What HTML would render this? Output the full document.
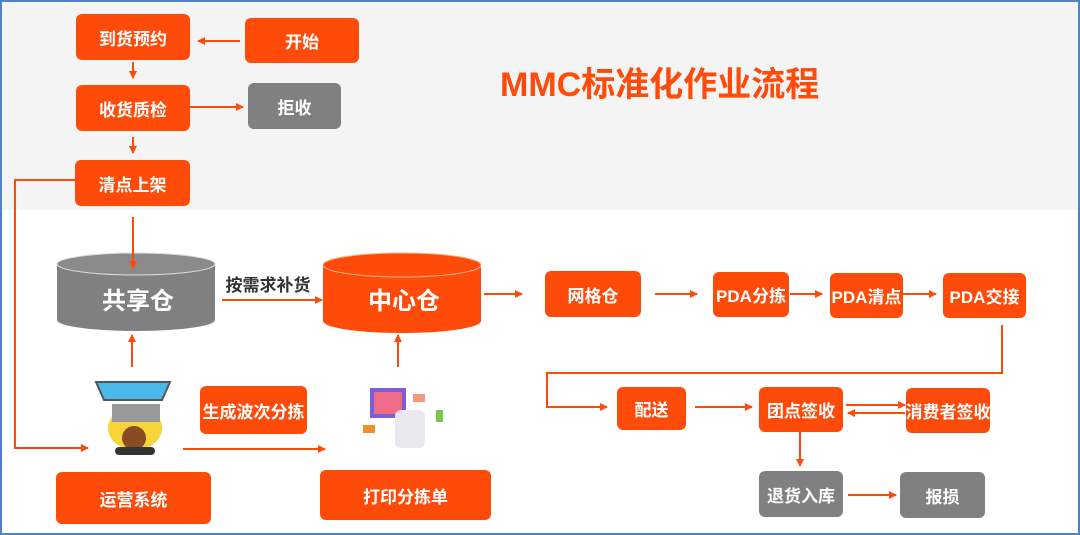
<!DOCTYPE html>
<html><head><meta charset="utf-8"><style>
body{margin:0;width:1080px;height:535px;overflow:hidden;background:#fff;font-family:"Liberation Sans","Noto Sans CJK SC",sans-serif;}
.wrap{position:absolute;left:0;top:0;width:1076px;height:531px;border:2px solid #4f81c7;background:#fff;}
.top{position:absolute;left:0;top:0;width:1076px;height:208px;background:#f4f4f4;}
.b{position:absolute;background:#ff4b0a;color:#fff;font-weight:bold;font-size:17px;display:flex;align-items:center;justify-content:center;border-radius:6px;white-space:nowrap;}
.g{background:#808080;}
.t{position:absolute;font-weight:bold;}
svg{position:absolute;left:0;top:0;}
</style></head><body>
<div class="wrap"><div class="top"></div></div>
<div class="b" style="left:76px;top:14px;width:114px;height:46px">到货预约</div>
<div class="b" style="left:245px;top:18px;width:114px;height:45px">开始</div>
<div class="b g" style="left:248px;top:83px;width:93px;height:46px">拒收</div>
<div class="b" style="left:76px;top:85px;width:114px;height:46px">收货质检</div>
<div class="b" style="left:75px;top:160px;width:115px;height:46px">清点上架</div>
<div class="t" style="left:500px;top:57px;font-size:34px;color:#ff4b0a">MMC标准化作业流程</div>
<svg width="1080" height="535">
<defs><marker id="a" markerWidth="8" markerHeight="8" refX="7" refY="4" orient="auto" markerUnits="userSpaceOnUse"><path d="M0,0 L8,4 L0,8z" fill="#ff4b0a"/></marker></defs>
<g stroke="#ff4b0a" stroke-width="2" fill="none">
<path d="M240,41 H198" marker-end="url(#a)"/>
<path d="M133,62 V78" marker-end="url(#a)"/>
<path d="M190,107 H243" marker-end="url(#a)"/>
<path d="M133,137 V153" marker-end="url(#a)"/>
<path d="M75,180 H15 V448 H88" marker-end="url(#a)"/>
<path d="M183,449 H325" marker-end="url(#a)"/>
<path d="M132,367 V335" marker-end="url(#a)"/>
<path d="M398,367 V335" marker-end="url(#a)"/>
<path d="M222,300 H322" marker-end="url(#a)"/>
<path d="M484,294 H522" marker-end="url(#a)"/>
<path d="M655,294 H697" marker-end="url(#a)"/>
<path d="M790,294 H822" marker-end="url(#a)"/>
<path d="M903,294 H936" marker-end="url(#a)"/>
<path d="M1002,325 V373 H547 V407 H607" marker-end="url(#a)"/>
<path d="M695,407 H752" marker-end="url(#a)"/>
<path d="M846,405 H905" marker-end="url(#a)"/>
<path d="M905,413 H848" marker-end="url(#a)"/>
<path d="M800,432 V466" marker-end="url(#a)"/>
<path d="M848,495 H896" marker-end="url(#a)"/>
</g>
<path d="M57,264 V320 A79,11 0 0 0 215,320 V264z" fill="#808080"/>
<ellipse cx="136" cy="264" rx="79" ry="11" fill="#8a8a8a" stroke="#ddd" stroke-width="1"/>
<path d="M133,217 V268" stroke="#ff4b0a" stroke-width="2" marker-end="url(#a)"/>
<path d="M323,265 V321 A79,12 0 0 0 481,321 V265z" fill="#ff4b0a"/>
<ellipse cx="402" cy="265" rx="79" ry="12" fill="#ff4b0a" stroke="#ffb08a" stroke-width="1"/>
<text x="138" y="309" font-size="24" font-weight="bold" fill="#fff" text-anchor="middle" font-family="Liberation Sans,Noto Sans CJK SC,sans-serif">共享仓</text>
<text x="404" y="309" font-size="24" font-weight="bold" fill="#fff" text-anchor="middle" font-family="Liberation Sans,Noto Sans CJK SC,sans-serif">中心仓</text>
<text x="268" y="291" font-size="17" font-weight="bold" fill="#333" text-anchor="middle" font-family="Liberation Sans,Noto Sans CJK SC,sans-serif">按需求补货</text>
<path d="M96,382 H170 L162,400 H104z" fill="#4ab8e8" stroke="#555" stroke-width="2"/>
<ellipse cx="135" cy="428" rx="27" ry="22" fill="#f7d43a"/>
<rect x="112" y="404" width="48" height="18" fill="#999"/>
<circle cx="134" cy="438" r="12" fill="#8a4a22"/>
<rect x="115" y="447" width="40" height="8" rx="4" fill="#333"/>
<rect x="370" y="388" width="36" height="30" fill="#7c5ed6"/>
<rect x="374" y="392" width="28" height="22" fill="#f06a8a"/>
<rect x="395" y="410" width="30" height="38" rx="6" fill="#e8e8ee"/>
<rect x="413" y="394" width="12" height="8" fill="#f39a7a"/>
<rect x="436" y="410" width="7" height="12" fill="#7ac74f"/>
<rect x="363" y="425" width="12" height="8" fill="#f0902a"/>
</svg>
<div class="b" style="left:545px;top:271px;width:96px;height:46px">网格仓</div>
<div class="b" style="left:713px;top:272px;width:76px;height:45px">PDA分拣</div>
<div class="b" style="left:830px;top:273px;width:73px;height:45px">PDA清点</div>
<div class="b" style="left:943px;top:273px;width:83px;height:45px">PDA交接</div>
<div class="b" style="left:617px;top:387px;width:69px;height:43px">配送</div>
<div class="b" style="left:759px;top:387px;width:84px;height:45px">团点签收</div>
<div class="b" style="left:906px;top:388px;width:84px;height:45px">消费者签收</div>
<div class="b g" style="left:759px;top:471px;width:84px;height:46px">退货入库</div>
<div class="b g" style="left:900px;top:472px;width:85px;height:46px">报损</div>
<div class="b" style="left:200px;top:386px;width:107px;height:48px">生成波次分拣</div>
<div class="b" style="left:56px;top:472px;width:155px;height:52px">运营系统</div>
<div class="b" style="left:320px;top:470px;width:171px;height:50px">打印分拣单</div>
</body></html>
